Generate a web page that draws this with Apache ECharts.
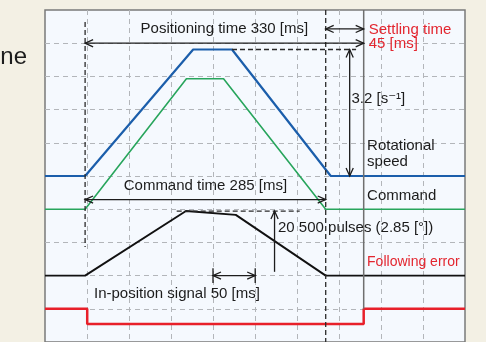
<!DOCTYPE html>
<html>
<head>
<meta charset="utf-8">
<script src="https://cdn.jsdelivr.net/npm/echarts@6/dist/echarts.min.js"></script>
<style>
  html, body { margin: 0; padding: 0; background: #f3f0e4; }
  #chart { width: 486px; height: 342px; }
</style>
</head>
<body>
<div id="chart"></div>
<script>
// ---- Timing (ms); motion starts at t = 0 ----
const positioningMs = 330;
const commandMs = 285;
const settlingMs = 45;
const inPositionMs = 50;
const inPositionMarkFrom = 151.5;

// Motor rotational speed [s^-1]
const speedTime  = [-47.5, 0, 128, 174, 291, 450];
const speedValue = [0, 0, 3.2, 3.2, 0, 0];
const peakSpeed = 3.2;

// Speed command [s^-1]
const commandTime  = [-47.5, 0, 120, 164, 285, 450];
const commandValue = [0, 0, 3.3, 3.3, 0, 0];

// Following error [pulses]
const errorTime   = [-47.5, 0, 119.5, 178.5, 285, 450];
const errorPulses = [0, 0, 20500, 19300, 0, 0];
const peakErrorPulses = 20500;
const peakErrorDegrees = 2.85;

// In-position signal (1 = on)
const inPosTime  = [-47.5, 2.5, 330, 450];
const inPosState = [1, 0, 1, 1];

const zip = (xs, ys) => xs.map((x, i) => [x, ys[i]]);
const groupThousands = n => String(n).replace(/\B(?=(\d{3})+(?!\d))/g, ' ');

const FAMILY = '"Liberation Sans", Arial, "DejaVu Sans", sans-serif';
const FONT = '15px ' + FAMILY;
const INK = '#1c1c1c';
const RED = '#e3262f';

function seg(a, b, style) {
  return { type: 'line', shape: { x1: a[0], y1: a[1], x2: b[0], y2: b[1] }, style: Object.assign({ stroke: INK, lineWidth: 1.3 }, style || {}) };
}
function head(tip, from) {
  const dx = tip[0] - from[0], dy = tip[1] - from[1];
  const len = Math.hypot(dx, dy) || 1;
  const ux = dx / len, uy = dy / len, px = -uy, py = ux;
  const L = 8, H = 3.6;
  return {
    type: 'polyline',
    shape: { points: [[tip[0] - ux * L + px * H, tip[1] - uy * L + py * H], tip, [tip[0] - ux * L - px * H, tip[1] - uy * L - py * H]] },
    style: { stroke: INK, lineWidth: 1.3, fill: null }
  };
}
function arrow(a, b, both) {
  const out = [seg(a, b), head(b, a)];
  if (both) out.push(head(a, b));
  return out;
}
function label(p, text, opts) {
  return {
    type: 'text', x: p[0], y: p[1],
    style: Object.assign({ text: text, font: FONT, fill: INK, align: 'left', verticalAlign: 'middle' }, opts || {})
  };
}
const DASH = { lineDash: [5, 3], stroke: '#2a2a2a', lineWidth: 1.3 };

// Annotations placed on the row scale (0..10 rows of the frame)
function renderRows(params, api) {
  const c = (t, r) => api.coord([t, r]);
  const ch = [];
  ch.push(seg(c(0, 9.64), c(0, 2.86), DASH));
  ch.push(seg(c(commandMs, 10), c(commandMs, 0), DASH));
  ch.push(seg(c(positioningMs, 10), c(positioningMs, 1), { stroke: '#6f6f6f', lineWidth: 1.5 }));
  ch.push(...arrow(c(0, 9.0), c(positioningMs, 9.0), true));
  ch.push(...arrow(c(positioningMs - settlingMs, 9.43), c(positioningMs, 9.43), true));
  ch.push(...arrow(c(0, 4.29), c(commandMs, 4.29), true));
  const ipA = inPositionMarkFrom, ipB = inPositionMarkFrom + inPositionMs;
  ch.push(...arrow(c(ipA, 2.0), c(ipB, 2.0), true));
  ch.push(seg(c(ipA, 2.22), c(ipA, 1.78)));
  ch.push(seg(c(ipB, 2.22), c(ipB, 1.78)));

  ch.push(label(c(positioningMs / 2, 9.43), 'Positioning time ' + positioningMs + ' [ms]', { align: 'center' }));
  ch.push(label(c(336, 9.40), 'Settling time', { fill: RED }));
  ch.push(label(c(336, 8.98), settlingMs + ' [ms]', { fill: RED }));
  ch.push(label(c(334, 5.92), 'Rotational'));
  ch.push(label(c(334, 5.42), 'speed'));
  ch.push(label(c(334, 4.41), 'Command'));
  ch.push(label(c(commandMs / 2, 4.70), 'Command time ' + commandMs + ' [ms]', { align: 'center' }));
  ch.push(label(c(334, 2.41), 'Following error', { fill: RED, font: '14px ' + FAMILY }));
  ch.push(label(c(10.5, 1.44), 'In-position signal ' + inPositionMs + ' [ms]'));
  return { type: 'group', children: ch };
}

// Annotations on the speed scale
function renderSpeed(params, api) {
  const c = (t, v) => api.coord([t, v]);
  const ch = [];
  ch.push(seg(c(speedTime[3], peakSpeed), c(321, peakSpeed), DASH));
  ch.push(...arrow(c(313.4, 0), c(313.4, peakSpeed), true));
  ch.push(label(c(315.5, 1.95), peakSpeed + ' [s\u207B\u00B9]'));
  return { type: 'group', children: ch };
}

// Annotations on the following-error scale
function renderError(params, api) {
  const c = (t, v) => api.coord([t, v]);
  const ch = [];
  ch.push(seg(c(108.5, peakErrorPulses), c(254.2, peakErrorPulses), DASH));
  ch.push(...arrow(c(224.4, 1200), c(224.4, peakErrorPulses), false));
  ch.push(label(c(228.5, 15320), groupThousands(peakErrorPulses) + ' pulses (' + peakErrorDegrees + ' [\u00B0])'));
  return { type: 'group', children: ch };
}

const gridLine = { show: true, showMinLine: false, showMaxLine: false, lineStyle: { color: '#b3b6ba', type: [5, 4], width: 1 } };
const hiddenParts = { axisLine: { show: false }, axisTick: { show: false }, axisLabel: { show: false } };

const chart = echarts.init(document.getElementById('chart'), null, { renderer: 'canvas' });
chart.setOption({
  animation: false,
  backgroundColor: '#f3f0e4',
  grid: { left: 45, top: 10, width: 420, height: 336, show: true, backgroundColor: '#f5f9fe', borderColor: '#7a7a7a', borderWidth: 1.5 },
  xAxis: [
    { type: 'value', min: -47.5, max: 450, show: false },
    Object.assign({ type: 'value', min: 0, max: 10, interval: 1, splitLine: gridLine }, hiddenParts)
  ],
  yAxis: [
    Object.assign({ type: 'value', min: 0, max: 10, interval: 1, splitLine: gridLine }, hiddenParts),
    { type: 'value', min: -4.2, max: 4.2, show: false },
    { type: 'value', min: -3.36, max: 5.04, show: false },
    { type: 'value', min: -21096, max: 84380, show: false },
    { type: 'value', min: -1.196, max: 20.765, show: false }
  ],
  graphic: [
    { type: 'text', x: 27, y: 57, style: { text: 'ne', font: '24px ' + FAMILY, fill: '#1c1c1c', align: 'right', verticalAlign: 'middle' } }
  ],
  series: [
    { type: 'line', xAxisIndex: 0, yAxisIndex: 4, data: zip(inPosTime, inPosState), step: 'end', symbol: 'none', lineStyle: { color: '#e8202a', width: 2.5 }, z: 3 },
    { type: 'line', xAxisIndex: 0, yAxisIndex: 2, data: zip(commandTime, commandValue), symbol: 'none', lineStyle: { color: '#28a55c', width: 1.6 }, z: 3 },
    { type: 'line', xAxisIndex: 0, yAxisIndex: 1, data: zip(speedTime, speedValue), symbol: 'none', lineStyle: { color: '#1b5eab', width: 2.2 }, z: 3 },
    { type: 'line', xAxisIndex: 0, yAxisIndex: 3, data: zip(errorTime, errorPulses), symbol: 'none', lineStyle: { color: '#111111', width: 1.9 }, z: 3 },
    { type: 'custom', xAxisIndex: 0, yAxisIndex: 0, data: [[0, 0]], renderItem: renderRows, silent: true, z: 4 },
    { type: 'custom', xAxisIndex: 0, yAxisIndex: 1, data: [[0, 0]], renderItem: renderSpeed, silent: true, z: 4 },
    { type: 'custom', xAxisIndex: 0, yAxisIndex: 3, data: [[0, 0]], renderItem: renderError, silent: true, z: 4 }
  ]
});
</script>
</body>
</html>
